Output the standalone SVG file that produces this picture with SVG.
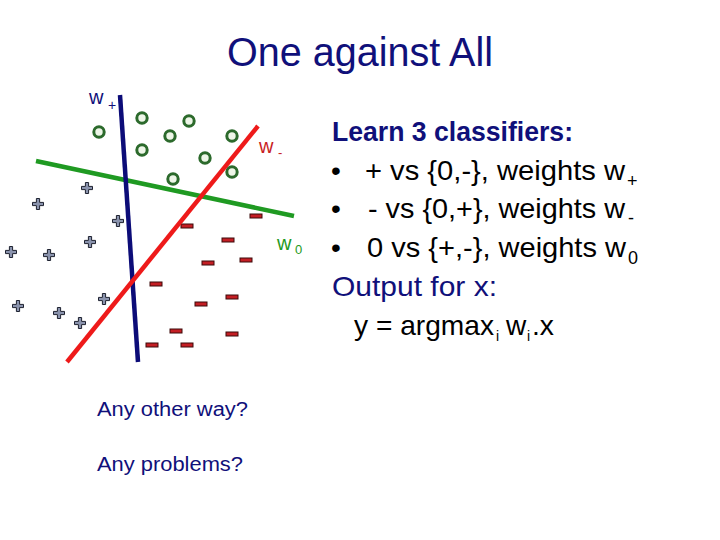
<svg xmlns="http://www.w3.org/2000/svg" width="720" height="540" viewBox="0 0 720 540">
<style>
.t{font-family:"Liberation Sans",Arial,sans-serif}
.navy{fill:#10107a}
.blk{fill:#000}
.ring{fill:#eef6e8;stroke:#2c6a2c;stroke-width:3}
.plus{fill:#8a93ad;stroke:#1e2230;stroke-width:1}
.minus{fill:#c41e24;stroke:#3c0a0a;stroke-width:1}
.sep{fill:none;stroke-width:4.5;stroke-linecap:butt}
</style>
<defs>
<path id="p" d="M-1.6,-5.5H1.6V-1.6H5.5V1.6H1.6V5.5H-1.6V1.6H-5.5V-1.6H-1.6Z" class="plus"/>
<rect id="m" x="-6" y="-2" width="12" height="4" class="minus"/>
<circle id="o" r="5.2" class="ring"/>
</defs>
<rect width="720" height="540" fill="#fff"/>
<g id="title"><text class="t navy" x="227" y="66" font-size="40" textLength="266" lengthAdjust="spacingAndGlyphs">One against All</text></g>

<g id="circles">
<use href="#o" x="99" y="132"/>
<use href="#o" x="142" y="118"/>
<use href="#o" x="189" y="121"/>
<use href="#o" x="170" y="136"/>
<use href="#o" x="142" y="150"/>
<use href="#o" x="232" y="136"/>
<use href="#o" x="205" y="158"/>
<use href="#o" x="232" y="172"/>
<use href="#o" x="173" y="179"/>
</g>
<g id="pluses">
<use href="#p" x="87" y="188"/>
<use href="#p" x="38" y="204"/>
<use href="#p" x="118" y="221"/>
<use href="#p" x="90" y="242"/>
<use href="#p" x="11" y="252"/>
<use href="#p" x="49" y="255"/>
<use href="#p" x="18" y="306"/>
<use href="#p" x="104" y="299"/>
<use href="#p" x="59" y="313"/>
<use href="#p" x="80" y="323"/>
</g>
<g id="minuses">
<use href="#m" x="256" y="216"/>
<use href="#m" x="187" y="226"/>
<use href="#m" x="228" y="240"/>
<use href="#m" x="208" y="263"/>
<use href="#m" x="246" y="260"/>
<use href="#m" x="156" y="284"/>
<use href="#m" x="232" y="297"/>
<use href="#m" x="201" y="304"/>
<use href="#m" x="176" y="331"/>
<use href="#m" x="232" y="334"/>
<use href="#m" x="152" y="345"/>
<use href="#m" x="187" y="345"/>
</g>
<g id="connectors">
<line class="sep" x1="36" y1="161" x2="294" y2="216" stroke="#1f9a22"/>
<line class="sep" x1="120" y1="95" x2="138" y2="362" stroke="#0c0c78"/>
<line class="sep" x1="258" y1="126" x2="67" y2="362" stroke="#ee1a1a"/>
</g>
<g id="labels">
<text class="t" x="89" y="104" font-size="20" fill="#10107a">w</text>
<text class="t" x="108" y="110" font-size="14" fill="#10107a">+</text>
<text class="t" x="259" y="153" font-size="20" fill="#c81e24">w</text>
<text class="t" x="278" y="157" font-size="13" fill="#c81e24">-</text>
<text class="t" x="277" y="250" font-size="20" fill="#1f9a22">w</text>
<text class="t" x="295" y="254" font-size="13" fill="#1f9a22">0</text>
</g>
<g id="questions">
<text class="t navy" x="97" y="416" font-size="20" textLength="151" lengthAdjust="spacingAndGlyphs">Any other way?</text>
<text class="t navy" x="97" y="471" font-size="20" textLength="146" lengthAdjust="spacingAndGlyphs">Any problems?</text>
</g>
<g id="text">
<text class="t navy" x="332" y="141" font-size="28" font-weight="bold" textLength="241" lengthAdjust="spacingAndGlyphs">Learn 3 classifiers:</text>
<text class="t blk" x="331" y="180" font-size="28">•</text>
<text class="t blk" x="365" y="180" font-size="28" textLength="260" lengthAdjust="spacingAndGlyphs">+ vs {0,-}, weights w</text>
<text class="t blk" x="627" y="187" font-size="18">+</text>
<text class="t blk" x="331" y="218" font-size="28">•</text>
<text class="t blk" x="368" y="218" font-size="28" textLength="257" lengthAdjust="spacingAndGlyphs">- vs {0,+}, weights w</text>
<text class="t blk" x="628" y="224" font-size="18">-</text>
<text class="t blk" x="331" y="257" font-size="28">•</text>
<text class="t blk" x="367" y="257" font-size="28" textLength="259" lengthAdjust="spacingAndGlyphs">0 vs {+,-}, weights w</text>
<text class="t blk" x="628" y="264" font-size="18">0</text>
<text class="t navy" x="332" y="296" font-size="28" textLength="165" lengthAdjust="spacingAndGlyphs">Output for x:</text>
<text class="t blk" x="354" y="335" font-size="28" textLength="140" lengthAdjust="spacingAndGlyphs">y = argmax</text>
<text class="t blk" x="496" y="341" font-size="14">i</text>
<text class="t blk" x="506" y="335" font-size="28">w</text>
<text class="t blk" x="527" y="341" font-size="14">i</text>
<text class="t blk" x="532" y="335" font-size="28" textLength="22" lengthAdjust="spacingAndGlyphs">.x</text>
</g>
</svg>
